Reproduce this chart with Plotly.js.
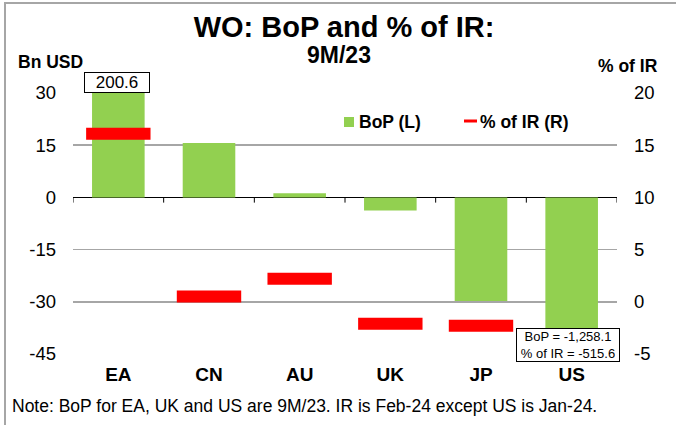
<!DOCTYPE html>
<html>
<head>
<meta charset="utf-8">
<script src="https://cdn.plot.ly/plotly-3.0.1.min.js"></script>
<style>
  html, body { margin: 0; padding: 0; background: #fff; }
  #wrap { position: relative; width: 676px; height: 425px; overflow: hidden; }
  #chart { width: 676px; height: 425px; }
  #frame { position: absolute; left: 4px; top: 2px; width: 680px; height: 440px;
           border: 2px solid #a6a6a6; box-sizing: border-box; pointer-events: none; }
</style>
</head>
<body>
<div id="wrap">
  <div id="chart"></div>
  <div id="frame"></div>
</div>
<script>
// ---- data ----
const categories = ['EA', 'CN', 'AU', 'UK', 'JP', 'US'];
const bopValues = [200.6, 15.6, 1.2, -3.8, -29.8, -1258.1];      // Bn USD (left axis)
const irPctValues = [16.1, 0.5, 2.2, -2.1, -2.3, -515.6];         // % of IR (right axis)
const leftTicks = [-45, -30, -15, 0, 15, 30];
const rightTicks = [-5, 0, 5, 10, 15, 20];
const seriesNames = ['BoP (L)', '% of IR (R)'];

// ---- layout helpers ----
const W = 676, H = 425;
const M = { l: 73, r: 59, t: 93, b: 71, autoexpand: false };
const pw = W - M.l - M.r, ph = H - M.t - M.b;
const px2x = p => (p - M.l) / pw;
const px2y = p => (H - M.b - p) / ph;
const FONT = 'Liberation Sans, Arial, sans-serif';
const GREEN = '#92D050', RED = '#FF0000';

const fmt = v => v.toLocaleString('en-US', { minimumFractionDigits: 1, maximumFractionDigits: 1 });

const traces = [
  {
    type: 'bar', name: seriesNames[0], x: categories, y: bopValues,
    marker: { color: GREEN }, yaxis: 'y', showlegend: false, hoverinfo: 'x+y'
  },
  {
    type: 'scatter', mode: 'markers', name: seriesNames[1], x: categories, y: irPctValues,
    yaxis: 'y2', showlegend: false, cliponaxis: true,
    marker: { symbol: 'line-ew', size: 46, color: RED, line: { color: RED, width: 12 } }
  }
];

// tick marks on the zero line at category boundaries
const shapes = [];
for (let i = 0; i <= categories.length; i++) {
  shapes.push({ type: 'line', xref: 'x', yref: 'y', x0: i - 0.5, x1: i - 0.5, y0: 0, y1: -1.5,
                line: { color: '#000', width: 1 } });
}
// custom legend symbols
shapes.push({ type: 'rect', xref: 'paper', yref: 'paper', x0: px2x(344), x1: px2x(354),
              y0: px2y(127), y1: px2y(117), fillcolor: GREEN, line: { width: 0 } });
shapes.push({ type: 'line', xref: 'paper', yref: 'paper', x0: px2x(464), x1: px2x(477),
              y0: px2y(121), y1: px2y(121), line: { color: RED, width: 3 } });

const lastIdx = categories.length - 1;
const annotations = [
  { xref: 'paper', yref: 'paper', x: px2x(338.5), y: px2y(55), xanchor: 'center', yanchor: 'middle',
    text: '<b>9M/23</b>', showarrow: false, font: { size: 23, family: FONT, color: '#000' } },
  { xref: 'paper', yref: 'paper', x: px2x(16), y: px2y(62), xanchor: 'left', yanchor: 'middle',
    text: '<b>Bn USD</b>', showarrow: false, font: { size: 17.5, family: FONT, color: '#000' } },
  { xref: 'paper', yref: 'paper', x: px2x(660), y: px2y(66), xanchor: 'right', yanchor: 'middle',
    text: '<b>% of IR</b>', showarrow: false, font: { size: 17.5, family: FONT, color: '#000' } },
  { xref: 'paper', yref: 'paper', x: px2x(357), y: px2y(122), xanchor: 'left', yanchor: 'middle',
    text: '<b>' + seriesNames[0] + '</b>', showarrow: false, font: { size: 17.5, family: FONT, color: '#000' } },
  { xref: 'paper', yref: 'paper', x: px2x(478), y: px2y(122), xanchor: 'left', yanchor: 'middle',
    text: '<b>' + seriesNames[1] + '</b>', showarrow: false, font: { size: 17.5, family: FONT, color: '#000' } },
  { xref: 'paper', yref: 'paper', x: px2x(10), y: px2y(406), xanchor: 'left', yanchor: 'middle',
    text: 'Note: BoP for EA, UK and US are 9M/23. IR is Feb-24 except US is Jan-24.', showarrow: false,
    font: { size: 17.5, family: FONT, color: '#000' } },
  // value label for clipped EA bar
  { xref: 'x', yref: 'paper', x: categories[0], y: 1, xanchor: 'center', yanchor: 'bottom', xshift: -1,
    text: fmt(bopValues[0]), showarrow: false, bgcolor: '#fff', bordercolor: '#000', borderwidth: 1,
    borderpad: 1, width: 62, height: 17, font: { size: 17, family: FONT, color: '#000' } },
  // value label for clipped US bar / off-scale marker
  { xref: 'x', yref: 'y', x: categories[lastIdx], y: -42.5, xanchor: 'center', yanchor: 'middle', xshift: -3.5,
    text: 'BoP = ' + fmt(bopValues[lastIdx]) + '<br>% of IR = ' + fmt(irPctValues[lastIdx]),
    showarrow: false, bgcolor: '#fff', bordercolor: '#000', borderwidth: 1, borderpad: 1,
    width: 100, height: 30, font: { size: 13, family: FONT, color: '#000' } }
];

const layout = {
  width: W, height: H, margin: M,
  paper_bgcolor: '#fff', plot_bgcolor: '#fff',
  font: { family: FONT, color: '#000', size: 18 },
  title: { text: '<b>WO: BoP and % of IR:</b>', font: { size: 29, family: FONT, color: '#000' },
           x: 344 / W, xanchor: 'center', xref: 'container', y: 1 - 27 / H, yanchor: 'middle', yref: 'container' },
  showlegend: false,
  bargap: 0.42,
  xaxis: { type: 'category', range: [-0.5, categories.length - 0.5], showgrid: false, showline: false,
           ticks: '', zeroline: false,
           tickfont: { size: 19, weight: 'bold', family: FONT }, ticklabelstandoff: 7, fixedrange: true },
  yaxis: { range: [-45, 30], tickvals: leftTicks, ticktext: leftTicks.map(String), showgrid: true,
           gridcolor: '#a6a6a6', gridwidth: 1.5, zeroline: true, zerolinecolor: '#000', zerolinewidth: 1.5,
           showline: false, ticks: '', ticklabelstandoff: 16, tickfont: { size: 18.5, family: FONT } },
  yaxis2: { range: [-5, 20], tickvals: rightTicks, ticktext: rightTicks.map(String), overlaying: 'y', side: 'right',
            showgrid: false, zeroline: false, showline: false, ticks: '', ticklabelstandoff: 16,
            tickfont: { size: 18.5, family: FONT } },
  shapes: shapes,
  annotations: annotations
};

Plotly.newPlot('chart', traces, layout, { staticPlot: true, displayModeBar: false });
</script>
</body>
</html>
